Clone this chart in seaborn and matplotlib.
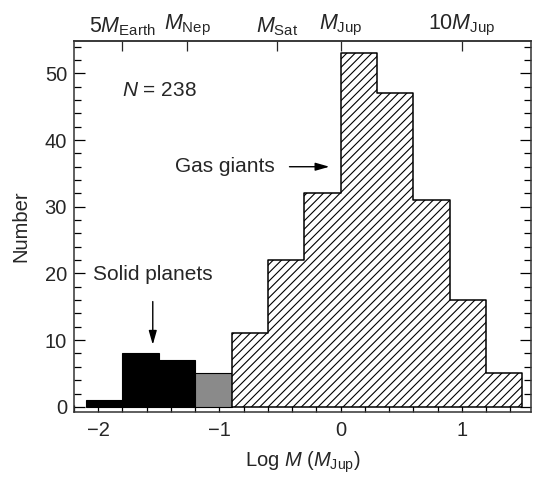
import matplotlib
matplotlib.use("Agg")
import numpy as np
import pandas as pd
import matplotlib.pyplot as plt
from matplotlib.ticker import MultipleLocator
import seaborn as sns

# Histogram of planet masses, log10(M / M_Jup), bins of 0.3 dex
bin_edges = [-2.1, -1.8, -1.5, -1.2, -0.9, -0.6, -0.3, 0.0, 0.3, 0.6, 0.9, 1.2, 1.5]
counts = [1, 8, 7, 5, 11, 22, 32, 53, 47, 31, 16, 5]
planet_class = ["solid", "solid", "solid", "mixed",
                "gas", "gas", "gas", "gas", "gas", "gas", "gas", "gas"]

# Reference masses for the upper axis, in Jupiter masses
ref_masses = [5 / 317.8, 17.15 / 317.8, 95.16 / 317.8, 1.0, 10.0]
ref_labels = [r"$5M_{\mathrm{Earth}}$", r"$M_{\mathrm{Nep}}$",
              r"$M_{\mathrm{Sat}}$", r"$M_{\mathrm{Jup}}$", r"$10M_{\mathrm{Jup}}$"]

sns.set_theme(style="ticks")
plt.rcParams["font.family"] = ["Liberation Sans", "DejaVu Sans"]
plt.rcParams["mathtext.fontset"] = "custom"
plt.rcParams["mathtext.rm"] = "Liberation Sans"
plt.rcParams["mathtext.it"] = "Liberation Sans:italic"
plt.rcParams["hatch.linewidth"] = 0.8

FS = 14.5
FS_TXT = 15

edges = np.array(bin_edges)
df = pd.DataFrame({
    "log_mass": (edges[:-1] + edges[1:]) / 2,
    "count": counts,
    "cls": planet_class,
})

fig = plt.figure(figsize=(5.33, 4.79), dpi=100)
ax = fig.add_axes([0.1388, 0.1409, 0.8574, 0.7735])

# Solid planets: filled black bars
sns.histplot(data=df[df.cls == "solid"], x="log_mass", weights="count",
             bins=list(bin_edges[:4]), element="bars",
             color="black", edgecolor="black", linewidth=0.8, alpha=1, ax=ax)
# Transition bin: gray
sns.histplot(data=df[df.cls == "mixed"], x="log_mass", weights="count",
             bins=list(bin_edges[3:5]), element="bars",
             facecolor="#8a8a8a", edgecolor="black", linewidth=0.8, alpha=1, ax=ax)
# Gas giants: hatched step outline
sns.histplot(data=df[df.cls == "gas"], x="log_mass", weights="count",
             bins=list(bin_edges[4:]), element="step",
             fill=True, facecolor="white", edgecolor="black", hatch="////",
             linewidth=1.1, alpha=1, ax=ax)

ax.set_xlim(-2.2, 1.57)
ax.set_ylim(-0.7, 54.85)
ax.set_xticks([-2, -1, 0, 1])
ax.set_xticklabels(["\u22122", "\u22121", "0", "1"])
ax.xaxis.set_minor_locator(MultipleLocator(0.2))
ax.set_yticks([0, 10, 20, 30, 40, 50])
ax.yaxis.set_minor_locator(MultipleLocator(2))
ax.tick_params(which="both", direction="in", top=False, right=True,
               labelsize=FS, color="black", width=0.9)
ax.tick_params(axis="x", pad=7)
ax.tick_params(axis="y", pad=5)
ax.tick_params(which="major", length=8)
ax.tick_params(which="minor", length=4.8)
for s in ax.spines.values():
    s.set_visible(True)
    s.set_linewidth(1.1)
    s.set_color("#333333")

ax.set_xlabel(r"Log $M$ ($M_{\mathrm{Jup}}$)", fontsize=FS, labelpad=7)
ax.set_ylabel("Number", fontsize=FS, labelpad=10)

# Upper axis marking reference planet masses
top = ax.secondary_xaxis("top")
top.set_xticks(np.log10(ref_masses))
top.set_xticklabels(ref_labels)
top.tick_params(direction="in", length=7.2, width=0.9, labelsize=15.5, pad=2.5)
top.spines["top"].set_linewidth(1.1)
top.spines["top"].set_color("#333333")

ax.text(-1.80, 47.5, r"$N$ = 238", fontsize=FS_TXT, va="center", ha="left")
ax.text(-2.04, 19.8, "Solid planets", fontsize=FS_TXT, va="center", ha="left")
ax.annotate("", xy=(-1.55, 8.9), xytext=(-1.55, 16.2),
            arrowprops=dict(arrowstyle="-|>,head_length=0.7,head_width=0.2",
                            color="black", lw=1.0))
ax.text(-0.545, 36.0, "Gas giants", fontsize=FS_TXT, va="center", ha="right")
ax.annotate("", xy=(-0.07, 36.0), xytext=(-0.445, 36.0),
            arrowprops=dict(arrowstyle="-|>,head_length=0.7,head_width=0.2",
                            color="black", lw=1.0))

fig.savefig("out.png", dpi=100)
